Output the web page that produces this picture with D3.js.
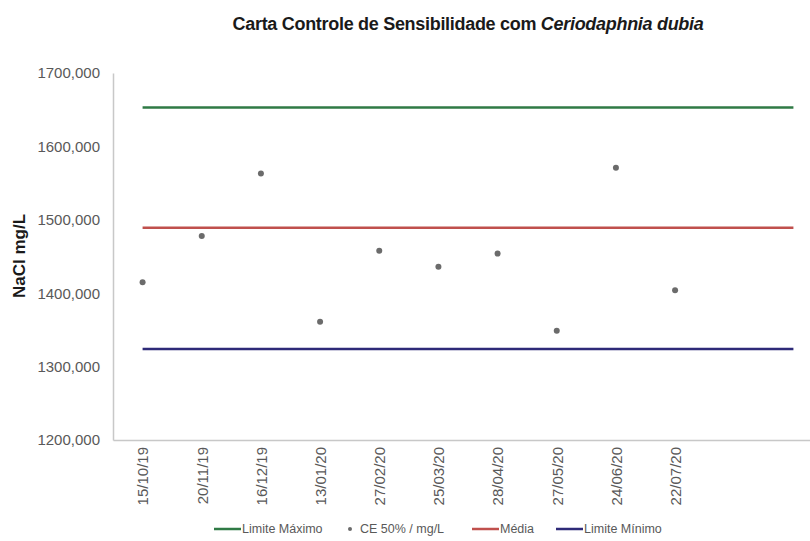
<!DOCTYPE html>
<html>
<head>
<meta charset="utf-8">
<script src="https://cdn.jsdelivr.net/npm/d3@7"></script>
<style>
  body { margin: 0; background: #fff; }
  svg { font-family: "Liberation Sans", Arial, sans-serif; }
</style>
</head>
<body>
<div class="chart"></div>
<script>
(function () {

  var width = 810, height = 541;

  // categories (two empty slots at the end, as in the original sheet)
  var dates = ["15/10/19", "20/11/19", "16/12/19", "13/01/20", "27/02/20",
               "25/03/20", "28/04/20", "27/05/20", "24/06/20", "22/07/20", "", " "];
  // CE 50% / mg/L
  var ce50 = [1415, 1478, 1563, 1361, 1458, 1436, 1454, 1349, 1571, 1404];
  // control limits, one value per category
  var limMax = dates.map(function () { return 1653; });
  var media = dates.map(function () { return 1489; });
  var limMin = dates.map(function () { return 1324; });
  var yTicks = [1200, 1300, 1400, 1500, 1600, 1700];

  var svg = d3.select(".chart")
    .append("svg")
    .attr("width", width)
    .attr("height", height);

  var x = d3.scalePoint()
    .domain(dates)
    .range([113, 823])
    .padding(0.5);

  var y = d3.scaleLinear()
    .domain([1200, 1700])
    .range([440, 73]);

  var fmt = function (d) { return d3.format("d")(d) + ",000"; };

  // y axis
  var yAxis = svg.append("g")
    .attr("transform", "translate(113,0)")
    .call(d3.axisLeft(y).tickValues(yTicks).tickSize(0).tickPadding(13).tickFormat(fmt));
  yAxis.select(".domain").attr("stroke", "#c8c8c8").attr("stroke-width", 1.5);
  yAxis.selectAll("text").attr("fill", "#595959").style("font-size", "15px");

  // x axis
  var xAxis = svg.append("g")
    .attr("transform", "translate(0,440)")
    .call(d3.axisBottom(x).tickSize(0).tickSizeOuter(0));
  xAxis.select(".domain").attr("stroke", "#c8c8c8").attr("stroke-width", 1.5);
  xAxis.selectAll("text")
    .attr("fill", "#595959")
    .style("font-size", "15px")
    .attr("transform", "rotate(-90)")
    .attr("text-anchor", "end")
    .attr("x", -7)
    .attr("y", 0)
    .attr("dy", "0.35em");

  // limit lines
  var line = d3.line()
    .x(function (d, i) { return x(dates[i]); })
    .y(function (d) { return y(d); });

  var series = [
    { name: "Limite Máximo", values: limMax, color: "#2f7a45" },
    { name: "Média", values: media, color: "#c0504d" },
    { name: "Limite Mínimo", values: limMin, color: "#2e2a78" }
  ];

  svg.selectAll(".limit")
    .data(series)
    .enter()
    .append("path")
    .attr("class", "limit")
    .attr("d", function (d) { return line(d.values); })
    .attr("fill", "none")
    .attr("stroke", function (d) { return d.color; })
    .attr("stroke-width", 2.5);

  // points
  svg.selectAll(".pt")
    .data(ce50)
    .enter()
    .append("circle")
    .attr("class", "pt")
    .attr("cx", function (d, i) { return x(dates[i]); })
    .attr("cy", function (d) { return y(d); })
    .attr("r", 3)
    .attr("fill", "#6b6b6b");

  // title
  var title = svg.append("text")
    .attr("x", 468)
    .attr("y", 30)
    .attr("text-anchor", "middle")
    .style("font-size", "18px")
    .style("font-weight", "bold")
    .style("letter-spacing", "-0.3px")
    .attr("fill", "#1a1a1a");
  title.append("tspan").text("Carta Controle de Sensibilidade com ");
  title.append("tspan").style("font-style", "italic").text("Ceriodaphnia dubia");

  // y title
  svg.append("text")
    .attr("transform", "translate(25,256) rotate(-90)")
    .attr("text-anchor", "middle")
    .style("font-size", "17px")
    .style("font-weight", "bold")
    .attr("fill", "#1a1a1a")
    .text("NaCl mg/L");

  // legend
  var legendItems = [
    { name: "Limite Máximo", type: "line", color: "#2f7a45", x: 214 },
    { name: "CE 50% / mg/L", type: "dot", color: "#6b6b6b", x: 332 },
    { name: "Média", type: "line", color: "#c0504d", x: 472 },
    { name: "Limite Mínimo", type: "line", color: "#2e2a78", x: 556 }
  ];

  var legend = svg.selectAll(".legend")
    .data(legendItems)
    .enter()
    .append("g")
    .attr("class", "legend")
    .attr("transform", function (d) { return "translate(" + d.x + ",529)"; });

  legend.filter(function (d) { return d.type === "line"; })
    .append("line")
    .attr("x1", 0).attr("x2", 27)
    .attr("stroke", function (d) { return d.color; })
    .attr("stroke-width", 2.5);

  legend.filter(function (d) { return d.type === "dot"; })
    .append("circle")
    .attr("cx", 18).attr("r", 2)
    .attr("fill", function (d) { return d.color; });

  legend.append("text")
    .attr("x", 28)
    .attr("dy", "0.35em")
    .style("font-size", "12.5px")
    .attr("fill", "#595959")
    .text(function (d) { return d.name; });

})();
</script>
</body>
</html>
